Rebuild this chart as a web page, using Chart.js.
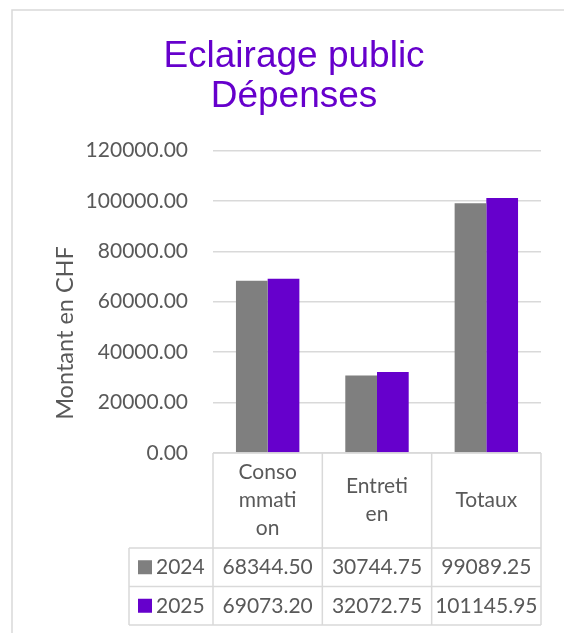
<!DOCTYPE html>
<html>
<head>
<meta charset="utf-8">
<script src="https://cdn.jsdelivr.net/npm/chart.js@4"></script>
<style>
  html, body { margin: 0; padding: 0; background: #fff; }
  #wrap { width: 564px; height: 633px; position: relative; }
</style>
</head>
<body>
<div id="wrap"><canvas id="chart"></canvas></div>
<script>
// données du graphique
const categories = [['Conso', 'mmati', 'on'], ['Entreti', 'en'], ['Totaux']];
const seriesNames = ['2024', '2025'];
const values2024 = [68344.50, 30744.75, 99089.25];
const values2025 = [69073.20, 32072.75, 101145.95];
const yTicks = [0, 20000, 40000, 60000, 80000, 100000, 120000];
const yTitle = 'Montant en CHF';

const grey = '#7f7f7f';
const purple = '#6600cc';
const lineCol = '#d9d9d9';
const textCol = '#595959';
const tableFont = '21px Lato';

// cadre + fond
const framePlugin = {
  id: 'frame',
  beforeDraw(chart) {
    const ctx = chart.ctx;
    ctx.save();
    ctx.fillStyle = '#fff';
    ctx.fillRect(0, 0, chart.width, chart.height);
    ctx.strokeStyle = lineCol;
    ctx.lineWidth = 1.5;
    ctx.strokeRect(12, 10, 700, 800);
    ctx.restore();
  }
};

// titre de l'axe Y (un peu décalé vers le bas comme dans Excel)
const yTitlePlugin = {
  id: 'yTitle',
  afterDraw(chart) {
    const ctx = chart.ctx;
    ctx.save();
    ctx.translate(65, 333);
    ctx.rotate(-Math.PI / 2);
    ctx.fillStyle = textCol;
    ctx.font = '23.5px Lato';
    ctx.textAlign = 'center';
    ctx.textBaseline = 'middle';
    ctx.fillText(yTitle, 0, 0);
    ctx.restore();
  }
};

// tableau de données sous l'axe
const tablePlugin = {
  id: 'dataTable',
  afterDraw(chart) {
    const ctx = chart.ctx;
    const x = chart.scales.x;
    const area = chart.chartArea;
    const n = categories.length;
    const colW = (area.right - area.left) / n;
    const edges = [];
    for (let i = 0; i <= n; i++) edges.push(area.left + i * colW);
    const headTop = area.bottom;
    const headBottom = 548;
    const rowH = 38.5;
    const rowTops = [headBottom, headBottom + rowH];
    const tableBottom = headBottom + rowH * 2;
    const keyLeft = 129;

    ctx.save();
    ctx.strokeStyle = lineCol;
    ctx.lineWidth = 1.5;
    ctx.beginPath();
    ctx.moveTo(area.left, headTop); ctx.lineTo(area.right, headTop);
    rowTops.forEach(t => { ctx.moveTo(keyLeft, t); ctx.lineTo(area.right, t); });
    ctx.moveTo(keyLeft, tableBottom); ctx.lineTo(area.right, tableBottom);
    edges.forEach(e => { ctx.moveTo(e, headTop); ctx.lineTo(e, tableBottom); });
    ctx.moveTo(keyLeft, headBottom); ctx.lineTo(keyLeft, tableBottom);
    ctx.stroke();

    ctx.fillStyle = textCol;
    ctx.font = tableFont;
    ctx.textAlign = 'center';
    ctx.textBaseline = 'middle';
    const lh = 28;
    categories.forEach((lines, i) => {
      const cx = x.getPixelForValue(i);
      const cy = (headTop + headBottom) / 2;
      lines.forEach((l, j) => {
        ctx.fillText(l, cx, cy + (j - (lines.length - 1) / 2) * lh);
      });
    });

    const rows = [values2024, values2025];
    const colors = [grey, purple];
    rows.forEach((vals, r) => {
      const cy = rowTops[r] + rowH / 2;
      ctx.fillStyle = colors[r];
      ctx.fillRect(keyLeft + 9, cy - 7, 14, 14);
      ctx.fillStyle = textCol;
      ctx.textAlign = 'left';
      ctx.fillText(seriesNames[r], keyLeft + 27, cy);
      ctx.textAlign = 'center';
      vals.forEach((v, i) => {
        ctx.fillText(v.toFixed(2), (edges[i] + edges[i + 1]) / 2, cy);
      });
    });
    ctx.restore();
  }
};

new Chart(document.getElementById('chart'), {
  type: 'bar',
  data: {
    labels: categories.map(c => c.join('')),
    datasets: [
      { label: seriesNames[0], data: values2024, backgroundColor: grey },
      { label: seriesNames[1], data: values2025, backgroundColor: purple }
    ]
  },
  options: {
    responsive: true,
    maintainAspectRatio: false,
    animation: false,
    datasets: { bar: { categoryPercentage: 0.58, barPercentage: 1 } },
    layout: { padding: { left: 47, right: 23, top: 36, bottom: 0 } },
    plugins: {
      legend: { display: false },
      tooltip: { enabled: false },
      title: {
        display: true,
        text: ['Eclairage public', 'Dépenses'],
        color: purple,
        font: { family: 'Liberation Sans', size: 37, weight: 'normal', lineHeight: 1.1 },
        padding: { top: 0, bottom: 33 }
      }
    },
    scales: {
      x: {
        grid: { display: false },
        border: { display: false },
        ticks: { display: false },
        afterFit(scale) { scale.height = 180; }
      },
      y: {
        min: 0,
        max: 120000,
        afterBuildTicks(scale) { scale.ticks = yTicks.map(v => ({ value: v })); },
        ticks: {
          color: textCol,
          font: { family: 'Lato', size: 21 },
          padding: 25,
          callback: v => Number(v).toFixed(2)
        },
        grid: { color: lineCol, lineWidth: 1.5, drawTicks: false },
        border: { display: false },
        title: { display: false },
        afterFit(scale) { scale.width = 166; }
      }
    }
  },
  plugins: [framePlugin, tablePlugin, yTitlePlugin]
});
</script>
</body>
</html>
